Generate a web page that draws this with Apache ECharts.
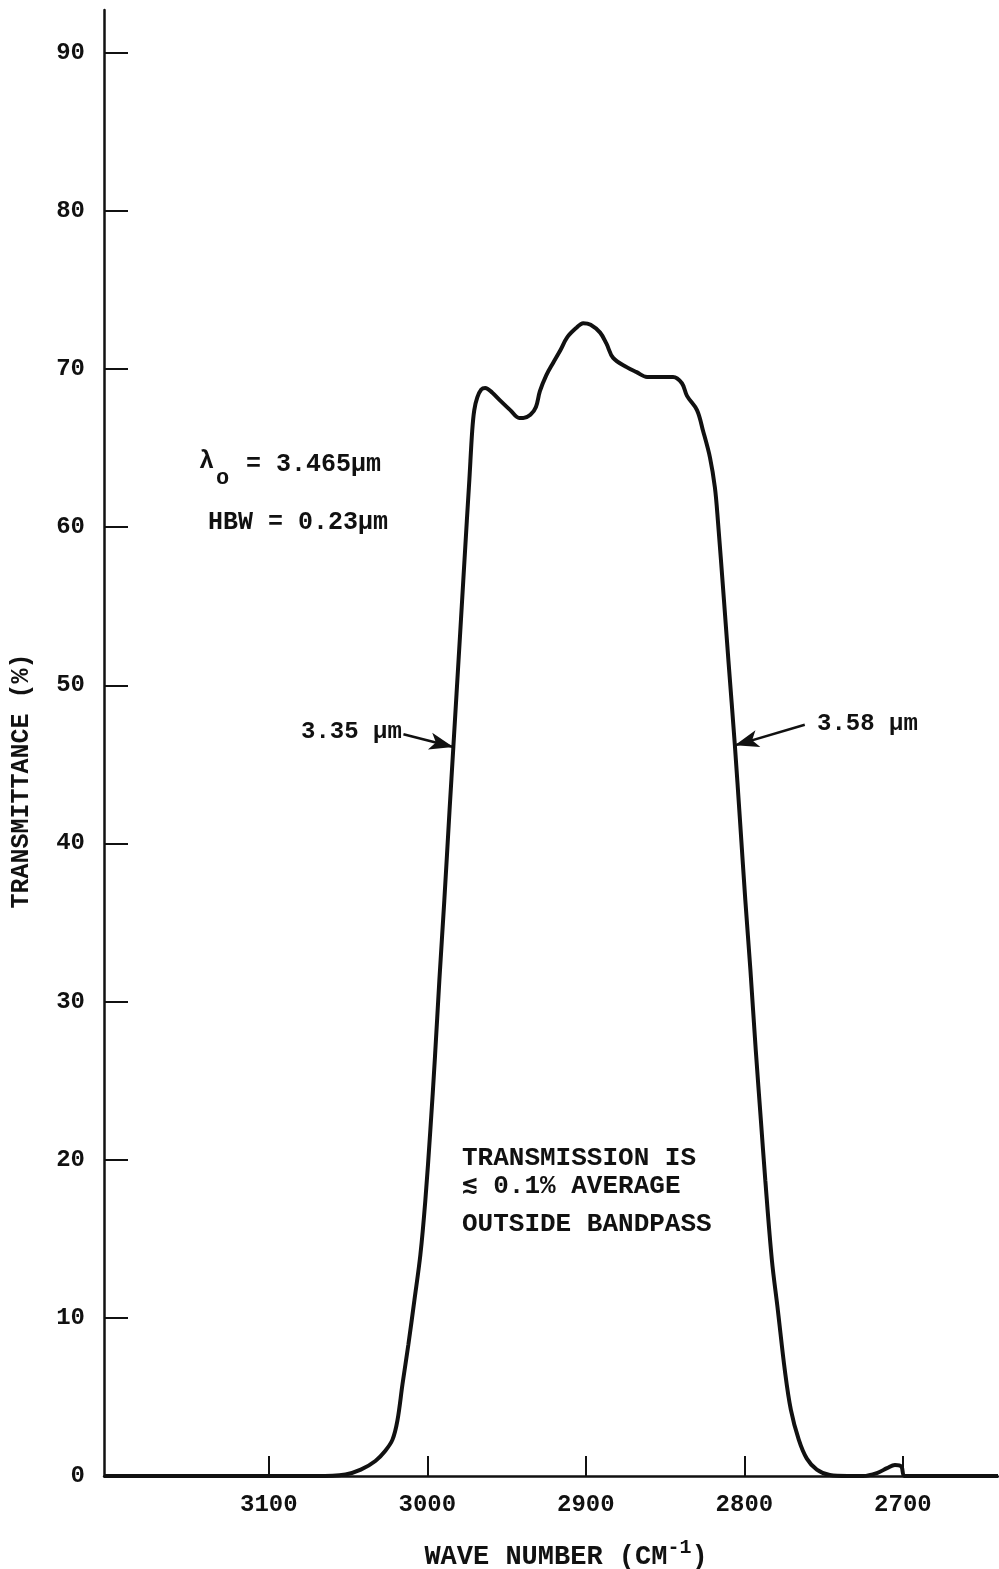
<!DOCTYPE html>
<html>
<head>
<meta charset="utf-8">
<title>Filter transmittance</title>
<script src="https://cdn.jsdelivr.net/npm/echarts@6/dist/echarts.min.js"></script>
<style>
  html, body { margin: 0; padding: 0; background: #fff; }
  #chart { width: 999px; height: 1569px; }
</style>
</head>
<body>
<div id="chart"></div>
<script>
// Wave number (cm^-1) and measured transmittance (%) of the bandpass filter
const wavenumber = [
  3204, 3150, 3100, 3070, 3051.7, 3042, 3032.8, 3026.5, 3022, 3018.9,
  3015.7, 3012, 3008.2, 3004.4, 3001.3, 2998.1, 2995.2, 2992.4, 2989.3, 2986.0,
  2983.6, 2979.6, 2975.1, 2973.5, 2971.7, 2970.4, 2968.5, 2966, 2963.5, 2959,
  2954, 2947.7, 2942, 2939.5, 2935, 2931.5, 2929, 2925, 2920.6, 2916,
  2911.8, 2906, 2901.7, 2897, 2891, 2887, 2882.8, 2874, 2868, 2861.4,
  2853, 2845, 2839.4, 2836.2, 2829.9, 2826.1, 2821.7, 2818.6, 2816.7, 2812.9,
  2810.1, 2806.0, 2802.8, 2799.4, 2796.2, 2792.8, 2789.6, 2786.8, 2782.7, 2778.9,
  2774.5, 2770.7, 2765.7, 2760.6, 2754.3, 2746.1, 2735, 2725, 2716, 2710,
  2705, 2701, 2699, 2690, 2640
];
const transmittance = [
  0, 0, 0, 0, 0.1, 0.4, 0.95, 1.6, 2.3, 3.5,
  5.8, 8.3, 11.1, 14.0, 17.4, 21.9, 26.5, 31.4, 36.4, 42.1,
  46.1, 52.8, 60.4, 63.0, 66.1, 67.4, 68.2, 68.7, 68.8, 68.5,
  68.0, 67.4, 66.9, 66.9, 67.1, 67.6, 68.6, 69.6, 70.4, 71.2,
  72.0, 72.6, 72.9, 72.8, 72.3, 71.6, 70.7, 70.1, 69.8, 69.5,
  69.5, 69.5, 69.1, 68.3, 67.4, 66.1, 64.4, 62.5, 60.4, 55.4,
  51.6, 46.2, 41.5, 36.4, 32.0, 26.9, 22.5, 18.7, 13.7, 10.5,
  6.7, 4.2, 2.3, 1.1, 0.4, 0.06, 0, 0, 0.2, 0.5,
  0.7, 0.6, 0, 0, 0
];

// Axis ticks
const xTicks = [3100, 3000, 2900, 2800, 2700];
const yTicks = [0, 10, 20, 30, 40, 50, 60, 70, 80, 90];

// Half-bandwidth markers: label, arrow start and arrow tip in (cm^-1, %)
const edgeLabels = ['3.35 µm', '3.58 µm'];
const edgeArrowFrom = [[3015.1, 46.9], [2761.9, 47.5]];
const edgeArrowTo = [[2983.6, 46.1], [2806.0, 46.2]];

const INK = '#111';
const MONO = '"Liberation Mono", "DejaVu Sans Mono", "DejaVu Sans", monospace';

const chart = echarts.init(document.getElementById('chart'), null, { renderer: 'canvas' });

const series = [{
  type: 'line',
  data: wavenumber.map((w, i) => [w, transmittance[i]]),
  showSymbol: false,
  smooth: 0.35,
  lineStyle: { color: INK, width: 4 },
  silent: true,
  markLine: {
    silent: true,
    symbol: ['none', 'arrow'],
    symbolSize: [13, 24],
    lineStyle: { color: INK, width: 2.5, type: 'solid' },
    label: { show: false },
    data: edgeArrowFrom.map((p, i) => [{ coord: p }, { coord: edgeArrowTo[i] }])
  }
}];

const textStyle = (size) => ({ font: 'bold ' + size + 'px ' + MONO, fill: INK, verticalAlign: 'middle' });

const graphic = [
  { type: 'text', x: 199, y: 462, style: Object.assign({ text: 'λ' }, textStyle(25)) },
  { type: 'text', x: 216, y: 478, style: Object.assign({ text: 'o' }, textStyle(22)) },
  { type: 'text', x: 246, y: 465, style: Object.assign({ text: '= 3.465µm' }, textStyle(25)) },
  { type: 'text', x: 208, y: 523, style: Object.assign({ text: 'HBW = 0.23µm' }, textStyle(25)) },
  { type: 'text', x: 301, y: 732, style: Object.assign({ text: edgeLabels[0] }, textStyle(24)) },
  { type: 'text', x: 817, y: 724, style: Object.assign({ text: edgeLabels[1] }, textStyle(24)) },
  { type: 'text', x: 462, y: 1158, style: Object.assign({ text: 'TRANSMISSION IS' }, textStyle(26)) },
  { type: 'text', x: 462, y: 1186, style: Object.assign({ text: '≲ 0.1% AVERAGE' }, textStyle(26)) },
  { type: 'text', x: 462, y: 1224, style: Object.assign({ text: 'OUTSIDE BANDPASS' }, textStyle(26)) }
];

chart.setOption({
  backgroundColor: '#fff',
  animation: false,
  grid: { left: 104, right: 1, top: 10, bottom: 93, containLabel: false, outerBoundsMode: 'none' },
  xAxis: {
    type: 'value',
    inverse: true,
    min: 2640,
    max: 3204,
    name: '{a|WAVE NUMBER (CM}{b|-1}{a|)}',
    nameLocation: 'middle',
    nameGap: 62,
    nameTextStyle: {
      padding: [0, 0, 0, 30],
      rich: {
        a: { fontFamily: MONO, fontWeight: 'bold', fontSize: 27, color: INK },
        b: { fontFamily: MONO, fontWeight: 'bold', fontSize: 20, color: INK, padding: [0, 0, 18, 0] }
      }
    },
    axisLine: { show: true, onZero: false, lineStyle: { color: INK, width: 2.5 } },
    axisTick: { show: true, inside: true, length: 20, customValues: xTicks, lineStyle: { color: INK, width: 2 } },
    axisLabel: {
      customValues: xTicks, margin: 17, fontFamily: MONO, fontWeight: 'bold', fontSize: 24, color: INK,
      formatter: (v) => String(v)
    },
    splitLine: { show: false }
  },
  yAxis: {
    type: 'value',
    min: 0,
    max: 92.7,
    name: 'TRANSMITTANCE (%)',
    nameLocation: 'middle',
    nameRotate: 90,
    nameGap: 70,
    nameTextStyle: { fontFamily: MONO, fontWeight: 'bold', fontSize: 25, color: INK, padding: [0, 76, 0, 0] },
    axisLine: { show: true, lineStyle: { color: INK, width: 2.5 } },
    axisTick: { show: true, inside: true, length: 24, customValues: yTicks, lineStyle: { color: INK, width: 2 } },
    axisLabel: {
      customValues: yTicks, margin: 19, fontFamily: MONO, fontWeight: 'bold', fontSize: 24, color: INK,
      formatter: (v) => String(v)
    },
    splitLine: { show: false }
  },
  series: series,
  graphic: graphic
});
</script>
</body>
</html>
